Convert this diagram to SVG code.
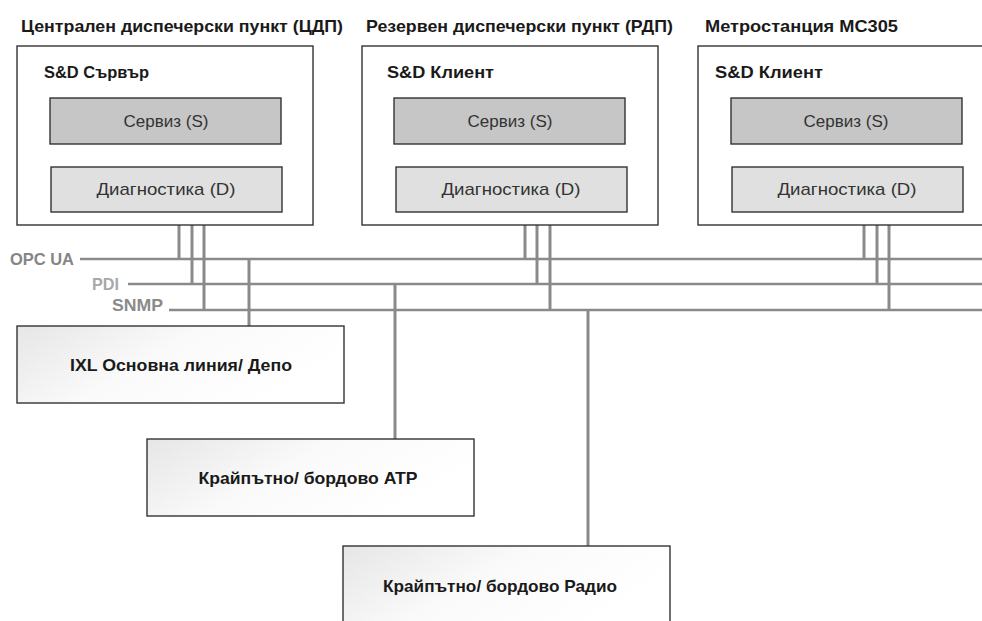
<svg xmlns="http://www.w3.org/2000/svg" width="982" height="621" viewBox="0 0 982 621">
  <defs>
    <linearGradient id="softFill" x1="0" y1="0" x2="1" y2="0.4">
      <stop offset="0" stop-color="#e6e6e6"/>
      <stop offset="0.5" stop-color="#fafafa"/>
      <stop offset="1" stop-color="#ffffff"/>
    </linearGradient>
    <style>
      .title { font-family: "Liberation Sans", Arial, sans-serif; font-weight: bold; font-size: 17px; fill: #1a1a1a; }
      .host { fill: #ffffff; stroke: #333333; stroke-width: 1.4; }
      .svc { fill: #c6c6c6; stroke: #333333; stroke-width: 1.4; }
      .diag { fill: #e0e0e0; stroke: #333333; stroke-width: 1.4; }
      .ext { fill: url(#softFill); stroke: #333333; stroke-width: 1.4; }
      .inner { font-family: "Liberation Sans", Arial, sans-serif; font-size: 17px; fill: #333333; text-anchor: middle; }
      .ext-label { font-family: "Liberation Sans", Arial, sans-serif; font-weight: bold; font-size: 17px; fill: #1a1a1a; text-anchor: middle; }
      .bus-label { font-family: "Liberation Sans", Arial, sans-serif; font-weight: bold; font-size: 17px; }
      .wire { stroke: #8a8a8a; stroke-width: 3; fill: none; }
      .bus { stroke: #8a8a8a; stroke-width: 2.6; fill: none; }
    </style>
  </defs>

  <rect width="982" height="621" fill="#ffffff"/>

  <!-- Site headings -->
  <text class="title" x="21" y="32" textLength="322" lengthAdjust="spacingAndGlyphs">Централен диспечерски пункт (ЦДП)</text>
  <text class="title" x="366" y="32" textLength="307" lengthAdjust="spacingAndGlyphs">Резервен диспечерски пункт (РДП)</text>
  <text class="title" x="705" y="32" textLength="193" lengthAdjust="spacingAndGlyphs">Метростанция МС305</text>

  <!-- Connectors: internal links, taps and buses -->
  <g id="connectors">
    <!-- Service to diagnostics -->
    <line class="wire" x1="166" y1="144" x2="166" y2="167"/>
    <line class="wire" x1="510" y1="144" x2="510" y2="167"/>
    <line class="wire" x1="846" y1="144" x2="846" y2="167"/>

    <!-- Buses -->
    <line class="bus" x1="80" y1="259" x2="982" y2="259"/>
    <line class="bus" x1="128" y1="284" x2="982" y2="284"/>
    <line class="bus" x1="169" y1="310" x2="982" y2="310"/>

    <!-- ЦДП taps -->
    <line class="wire" x1="179" y1="212" x2="179" y2="259"/>
    <line class="wire" x1="192" y1="212" x2="192" y2="284"/>
    <line class="wire" x1="204" y1="212" x2="204" y2="310"/>
    <!-- РДП taps -->
    <line class="wire" x1="525" y1="212" x2="525" y2="259"/>
    <line class="wire" x1="537" y1="212" x2="537" y2="284"/>
    <line class="wire" x1="550" y1="212" x2="550" y2="310"/>
    <!-- МС305 taps -->
    <line class="wire" x1="864" y1="212" x2="864" y2="259"/>
    <line class="wire" x1="877" y1="212" x2="877" y2="284"/>
    <line class="wire" x1="889" y1="212" x2="889" y2="310"/>

    <!-- Field systems -->
    <line class="wire" x1="249" y1="259" x2="249" y2="326"/>
    <line class="wire" x1="395" y1="284" x2="395" y2="439"/>
    <line class="wire" x1="588" y1="310" x2="588" y2="546"/>
  </g>

  <!-- Bus labels -->
  <text class="bus-label" x="10" y="265" fill="#858585" textLength="64" lengthAdjust="spacingAndGlyphs">OPC UA</text>
  <text class="bus-label" x="92" y="290" fill="#a8a8a8" textLength="27" lengthAdjust="spacingAndGlyphs">PDI</text>
  <text class="bus-label" x="112" y="311" fill="#8a8a8a" textLength="51" lengthAdjust="spacingAndGlyphs">SNMP</text>

  <g id="cdp-server">
    <rect class="host" x="17" y="46" width="296" height="179"/>
    <text class="title" x="44" y="78" textLength="105" lengthAdjust="spacingAndGlyphs">S&amp;D Сървър</text>
  </g>
  <g id="cdp-service">
    <rect class="svc" x="50" y="98" width="231" height="46"/>
    <text class="inner" x="166" y="127" textLength="85" lengthAdjust="spacingAndGlyphs">Сервиз (S)</text>
  </g>
  <g id="cdp-diagnostics">
    <rect class="diag" x="51" y="167" width="231" height="45"/>
    <text class="inner" x="166" y="195" textLength="139" lengthAdjust="spacingAndGlyphs">Диагностика (D)</text>
  </g>

  <g id="rdp-client">
    <rect class="host" x="362" y="46" width="296" height="179"/>
    <text class="title" x="387" y="78" textLength="107" lengthAdjust="spacingAndGlyphs">S&amp;D Клиент</text>
  </g>
  <g id="rdp-service">
    <rect class="svc" x="394" y="98" width="231" height="46"/>
    <text class="inner" x="510" y="127" textLength="85" lengthAdjust="spacingAndGlyphs">Сервиз (S)</text>
  </g>
  <g id="rdp-diagnostics">
    <rect class="diag" x="396" y="167" width="231" height="45"/>
    <text class="inner" x="511" y="195" textLength="139" lengthAdjust="spacingAndGlyphs">Диагностика (D)</text>
  </g>

  <g id="mc305-client">
    <rect class="host" x="698" y="46" width="296" height="179"/>
    <text class="title" x="715" y="78" textLength="108" lengthAdjust="spacingAndGlyphs">S&amp;D Клиент</text>
  </g>
  <g id="mc305-service">
    <rect class="svc" x="731" y="98" width="231" height="46"/>
    <text class="inner" x="846" y="127" textLength="85" lengthAdjust="spacingAndGlyphs">Сервиз (S)</text>
  </g>
  <g id="mc305-diagnostics">
    <rect class="diag" x="732" y="167" width="231" height="45"/>
    <text class="inner" x="847" y="195" textLength="139" lengthAdjust="spacingAndGlyphs">Диагностика (D)</text>
  </g>

  <g id="ixl">
    <rect class="ext" x="17" y="326" width="327" height="77"/>
    <text class="ext-label" x="181" y="371" textLength="222" lengthAdjust="spacingAndGlyphs">IXL Основна линия/ Депо</text>
  </g>
  <g id="atp">
    <rect class="ext" x="147" y="439" width="327" height="77"/>
    <text class="ext-label" x="308" y="484" textLength="219" lengthAdjust="spacingAndGlyphs">Крайпътно/ бордово ATP</text>
  </g>
  <g id="radio">
    <rect class="ext" x="343" y="546" width="327" height="80"/>
    <text class="ext-label" x="500" y="592" textLength="234" lengthAdjust="spacingAndGlyphs">Крайпътно/ бордово Радио</text>
  </g>
</svg>
